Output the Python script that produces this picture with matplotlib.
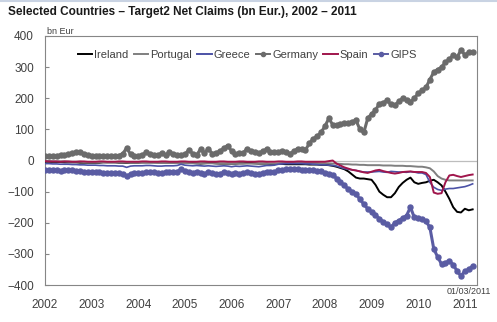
import numpy as np
import matplotlib
matplotlib.use("Agg")
import matplotlib.pyplot as plt
from matplotlib.lines import Line2D

plt.rcParams['font.family'] = ['Liberation Sans', 'DejaVu Sans']

# monthly net claims, bn EUR, Jan 2002 .. Mar 2011
start_year = 2002
year_ticks = list(range(2002, 2012))

ireland = [
    -4, -4, -5, -5, -5, -6, -6, -6, -6, -7, -7, -7,
    -7, -7, -7, -6, -6, -6, -6, -7, -7, -8, -7, -7,
    -7, -6, -6, -6, -6, -6, -7, -7, -7, -7, -6, -6,
    -6, -7, -8, -9, -10, -9, -8, -8, -9, -10, -10, -10,
    -10, -10, -9, -9, -8, -8, -9, -10, -10, -10, -11, -11,
    -11, -11, -12, -12, -12, -12, -12, -12, -13, -13, -13, -14,
    -14, -15, -17, -20, -24, -28, -35, -45, -55, -58, -58, -60,
    -62, -78, -100, -110, -118, -118, -105, -85, -72, -62, -55, -70,
    -75, -72, -70, -65, -62, -70, -80, -100, -123, -150, -165, -167,
    -155, -160, -157,
]
portugal = [
    -2, -2, -3, -3, -3, -3, -4, -4, -4, -4, -5, -5,
    -5, -5, -5, -5, -6, -6, -6, -6, -6, -7, -7, -7,
    -7, -7, -7, -7, -7, -8, -8, -8, -8, -8, -8, -8,
    -8, -8, -9, -9, -9, -9, -9, -9, -10, -10, -10, -10,
    -10, -10, -10, -10, -10, -10, -10, -10, -10, -10, -10, -10,
    -9, -8, -8, -8, -8, -8, -8, -8, -8, -8, -8, -9,
    -9, -9, -10, -10, -11, -12, -12, -13, -13, -14, -14, -15,
    -15, -15, -15, -16, -16, -16, -17, -17, -17, -18, -18, -19,
    -20, -20, -22, -25, -35, -50, -58, -62, -64, -64, -64, -64,
    -64, -64, -64,
]
greece = [
    -10, -10, -11, -11, -12, -12, -12, -13, -13, -14, -14, -15,
    -15, -15, -16, -16, -17, -17, -17, -18, -18, -22, -18, -17,
    -17, -17, -16, -16, -17, -18, -18, -17, -17, -17, -16, -12,
    -15, -16, -17, -16, -17, -18, -17, -18, -19, -18, -17, -18,
    -20, -18, -19, -18, -17, -18, -19, -20, -18, -16, -16, -15,
    -12, -11, -10, -10, -10, -10, -10, -11, -11, -12, -13, -14,
    -14, -15, -16, -18, -22, -26, -28, -30, -32, -35, -37, -37,
    -37, -36, -35, -37, -38, -35, -36, -37, -37, -38, -36, -37,
    -40, -40, -45, -70, -86, -93, -96, -92, -90, -90, -88, -86,
    -84, -80, -75,
]
germany = [
    16, 16, 15, 16, 17, 18, 20, 24, 27, 27, 22, 18,
    16, 16, 16, 16, 16, 16, 15, 16, 22, 40, 20, 16,
    16, 18, 26, 20, 17, 18, 23, 18, 26, 22, 18, 17,
    20, 34, 22, 18, 36, 24, 38, 22, 25, 30, 40, 48,
    30, 22, 24, 25, 38, 30, 28, 24, 30, 36, 28, 26,
    26, 30, 28, 22, 30, 38, 36, 34, 55, 70, 78, 90,
    110, 135, 115, 113, 116, 119, 120, 125, 129, 100, 90, 135,
    150, 161, 183, 186, 193, 180, 177, 190, 200, 195, 187, 200,
    216, 225, 235, 260, 284, 292, 300, 316, 325, 339, 332, 355,
    339, 348, 348,
]
spain = [
    -2, -3, -3, -3, -4, -3, -3, -4, -4, -3, -3, -4,
    -4, -4, -3, -3, -4, -4, -4, -3, -3, -4, -4, -4,
    -4, -3, -3, -4, -4, -4, -3, -3, -4, -4, -4, -3,
    -3, -4, -4, -4, -3, -3, -4, -4, -4, -3, -3, -4,
    -4, -4, -3, -3, -4, -4, -4, -3, -3, -4, -4, -4,
    -3, -3, -4, -4, -4, -3, -3, -4, -4, -4, -4, -4,
    -4, -2, 0, -10, -16, -22, -26, -30, -32, -35, -38, -40,
    -36, -32, -30, -34, -37, -40, -42, -40, -37, -36, -35, -37,
    -37, -37, -40, -53, -103, -107, -105, -70, -48, -46, -50, -53,
    -50, -47, -45,
]
gips = [
    -30, -30, -31, -32, -33, -32, -30, -31, -33, -35, -36, -36,
    -37, -38, -38, -39, -40, -40, -39, -40, -44, -50, -44, -40,
    -40, -40, -38, -37, -38, -40, -40, -38, -37, -38, -36, -28,
    -34, -38, -40, -36, -40, -42, -38, -40, -44, -42, -38, -40,
    -44, -40, -42, -40, -38, -40, -42, -44, -40, -36, -38, -36,
    -32, -30, -28, -28, -27, -28, -29, -30, -30, -31, -33, -35,
    -40, -42, -45, -58, -70, -80, -92, -100, -107, -125, -140, -155,
    -165, -175, -187, -197, -205, -215, -200, -193, -185, -177, -150, -183,
    -185, -187, -195, -215, -284, -310, -333, -328, -323, -335, -355, -371,
    -355, -350, -339,
]

dates = start_year + np.arange(len(germany)) / 12.0

fig = plt.figure(figsize=(4.97, 3.22), dpi=100)
ax = fig.add_axes([45 / 497, 1 - 285 / 322, 432 / 497, 249 / 322])

ax.axhline(0, color='#bdbdbd', lw=0.9, zorder=1)

ax.plot(dates, germany, color='#6b6b6b', lw=2.2, marker='o', ms=3.6,
        label='Germany', zorder=3)
ax.plot(dates, gips, color='#5a5ca3', lw=2.2, marker='o', ms=3.6,
        label='GIPS', zorder=3)
ax.plot(dates, ireland, color='black', lw=1.4, label='Ireland', zorder=4)
ax.plot(dates, portugal, color='#7f7f7f', lw=1.4, label='Portugal', zorder=4)
ax.plot(dates, greece, color='#4c52a6', lw=1.2, label='Greece', zorder=4)
ax.plot(dates, spain, color='#a0164c', lw=1.4, label='Spain', zorder=5)

ax.set_xlim(2002, 2011.26)
ax.set_ylim(-400, 400)
ax.set_yticks(range(-400, 401, 100))
ax.set_xticks(year_ticks)
ax.set_xticklabels([str(y) for y in year_ticks])

for s in ax.spines.values():
    s.set_color('#868686')
    s.set_linewidth(0.8)
ax.tick_params(axis='y', direction='in', length=3, width=0.8, color='#868686',
               labelsize=8.5, labelcolor='#404040', pad=8)
ax.tick_params(axis='x', length=0, labelsize=8.5, labelcolor='#404040', pad=10)

# legend in the original series order
order = ['Ireland', 'Portugal', 'Greece', 'Germany', 'Spain', 'GIPS']
handles, labels = ax.get_legend_handles_labels()
lookup = dict(zip(labels, handles))
leg_handles = []
for name in order:
    h = lookup[name]
    leg_handles.append(Line2D([], [], color=h.get_color(), lw=1.4,
                              marker=h.get_marker(), ms=3))
ax.legend(leg_handles, order, loc='center', bbox_to_anchor=(0.468, 0.924),
          ncol=6, frameon=False, fontsize=8, handlelength=1.3,
          handletextpad=0.2, columnspacing=0.45, labelcolor='#404040')

fig.text(8 / 497, 1 - 12 / 322, 'Selected Countries \u2013 Target2 Net Claims (bn Eur.), 2002 \u2013 2011',
         fontsize=8.5, fontweight='bold', va='center', ha='left', color='#1a1a1a')
fig.text(47 / 497, 1 - 31 / 322, 'bn Eur', fontsize=6.5, color='#404040',
         va='center', ha='left')
fig.text(491 / 497, 1 - 292 / 322, '01/03/2011', fontsize=6.5, color='#404040',
         va='center', ha='right')
fig.add_artist(Line2D([0, 1], [0.997, 0.997], color='#c9d3e3', lw=1.5,
                      transform=fig.transFigure))

fig.savefig('out.png', dpi=100)
